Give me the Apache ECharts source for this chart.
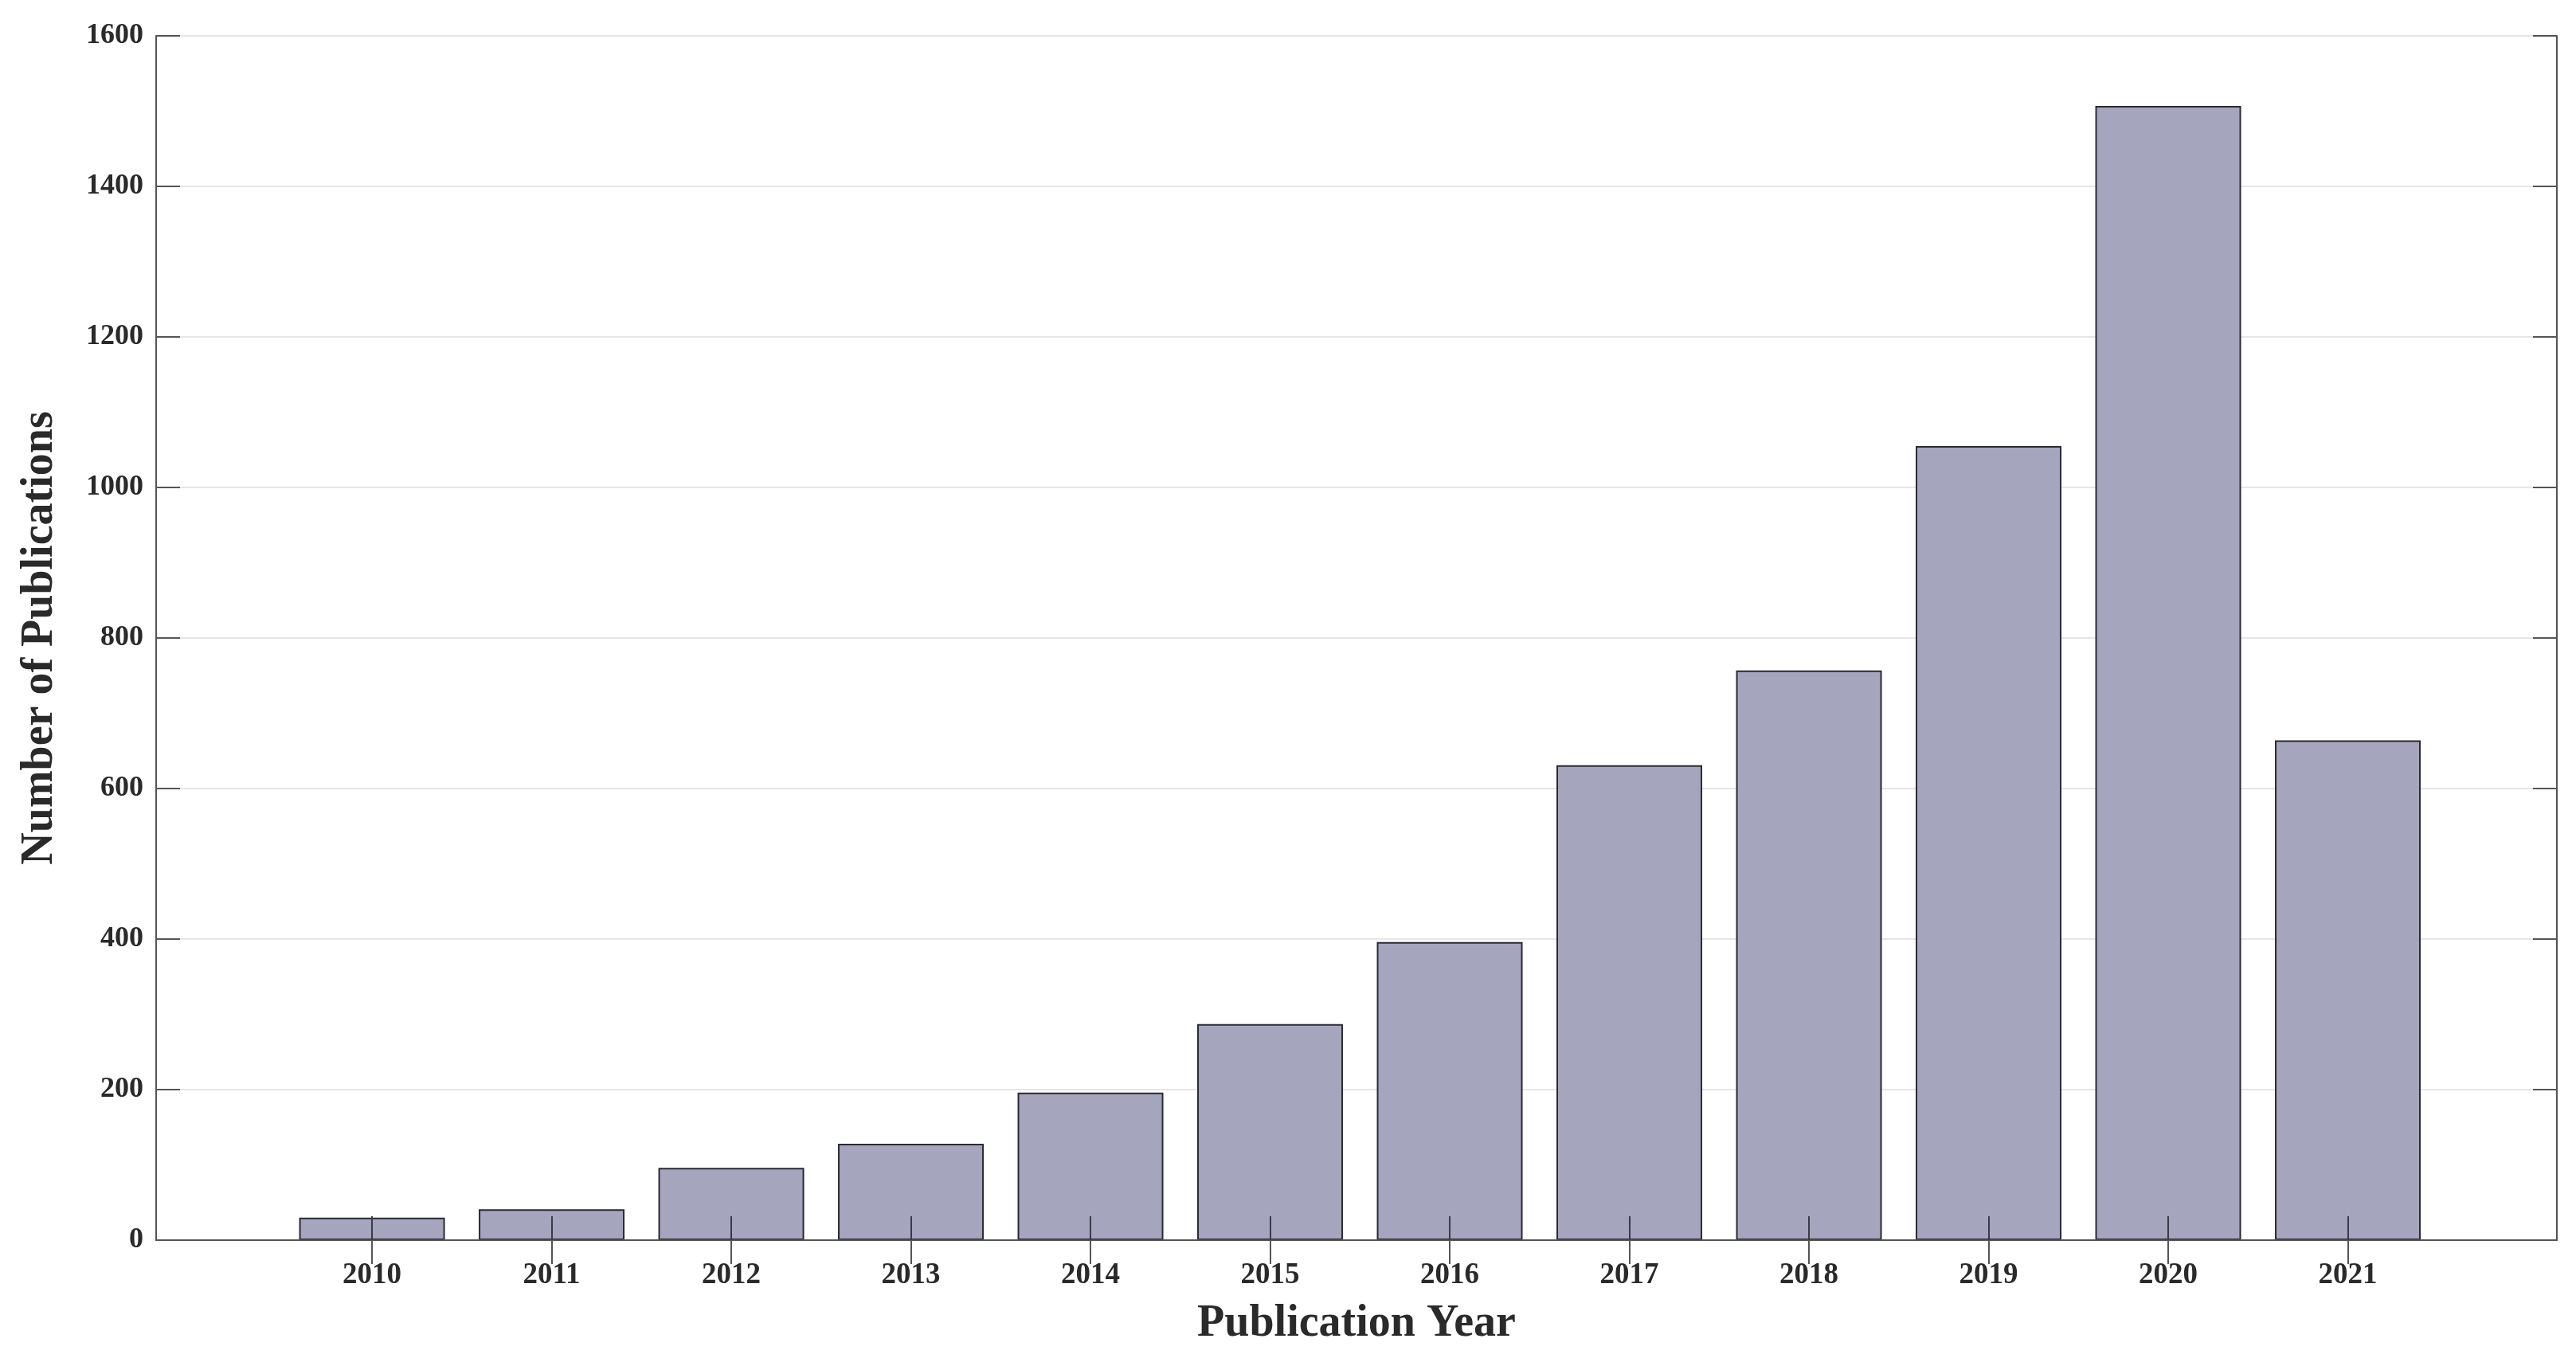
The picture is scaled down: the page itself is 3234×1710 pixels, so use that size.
<!DOCTYPE html>
<html>
<head>
<meta charset="utf-8">
<script src="https://cdn.jsdelivr.net/npm/echarts@6/dist/echarts.min.js"></script>
<style>
html,body{margin:0;padding:0;background:#fff;}
#chart{width:3234px;height:1710px;}
</style>
</head>
<body>
<div id="chart"></div>
<script>
const years = [2010, 2011, 2012, 2013, 2014, 2015, 2016, 2017, 2018, 2019, 2020, 2021];
const publications = [30, 41, 96, 128, 196, 287, 396, 631, 757, 1055, 1507, 664];
const yTicks = [0, 200, 400, 600, 800, 1000, 1200, 1400, 1600];
const xTitle = 'Publication Year';
const yTitle = 'Number of Publications';

const FONT = '"Liberation Serif", "DejaVu Serif", serif';
const TXT = '#2a2a2a';
const AXC = '#555555';

const chart = echarts.init(document.getElementById('chart'), null, {renderer: 'canvas'});
const xMin = 2008.798, xMax = 2022.164;

chart.setOption({
  backgroundColor: '#ffffff',
  animation: false,
  grid: {left: 196, right: 24, top: 45, bottom: 153, containLabel: false},
  xAxis: [{
    type: 'value', min: xMin, max: xMax, position: 'bottom', z: 5,
    name: xTitle, nameLocation: 'middle', nameGap: 78,
    nameTextStyle: {fontFamily: FONT, fontSize: 56, fontWeight: 'bold', color: TXT},
    axisLine: {show: true, lineStyle: {color: AXC, width: 2}},
    axisTick: {show: true, inside: true, length: 30, customValues: years, lineStyle: {color: '#3a3a4a', width: 2}},
    axisLabel: {show: true, customValues: years, margin: 26, fontFamily: FONT, fontSize: 37, fontWeight: 'bold', color: TXT,
      formatter: v => String(Math.round(v))},
    splitLine: {show: false}
  }, {
    type: 'value', min: xMin, max: xMax, position: 'top', z: 5,
    axisLine: {show: true, lineStyle: {color: AXC, width: 2}},
    axisTick: {show: true, inside: true, length: 30, customValues: years, lineStyle: {color: AXC, width: 2}},
    axisLabel: {show: false},
    splitLine: {show: false}
  }],
  yAxis: [{
    type: 'value', min: 0, max: 1600, interval: 200, position: 'left',
    name: yTitle, nameLocation: 'middle', nameGap: 117, nameRotate: 90,
    nameTextStyle: {fontFamily: FONT, fontSize: 56, fontWeight: 'bold', color: TXT},
    axisLine: {show: true, lineStyle: {color: AXC, width: 2}},
    axisTick: {show: true, inside: true, length: 30, lineStyle: {color: AXC, width: 2}},
    axisLabel: {show: true, margin: 16, fontFamily: FONT, fontSize: 36, fontWeight: 'bold', color: TXT,
      formatter: v => yTicks.includes(v) ? String(v) : ''},
    splitLine: {show: true, lineStyle: {color: '#e6e6e6', width: 2}}
  }, {
    type: 'value', min: 0, max: 1600, interval: 200, position: 'right',
    axisLine: {show: true, lineStyle: {color: AXC, width: 2}},
    axisTick: {show: true, inside: true, length: 30, lineStyle: {color: AXC, width: 2}},
    axisLabel: {show: false},
    splitLine: {show: false}
  }],
  series: [{
    type: 'bar',
    xAxisIndex: 0, yAxisIndex: 0,
    barWidth: 183,
    data: years.map((y, i) => [y, publications[i]]),
    itemStyle: {color: '#a5a5bd', borderColor: '#2a2a35', borderWidth: 2}
  }]
});
</script>
</body>
</html>
